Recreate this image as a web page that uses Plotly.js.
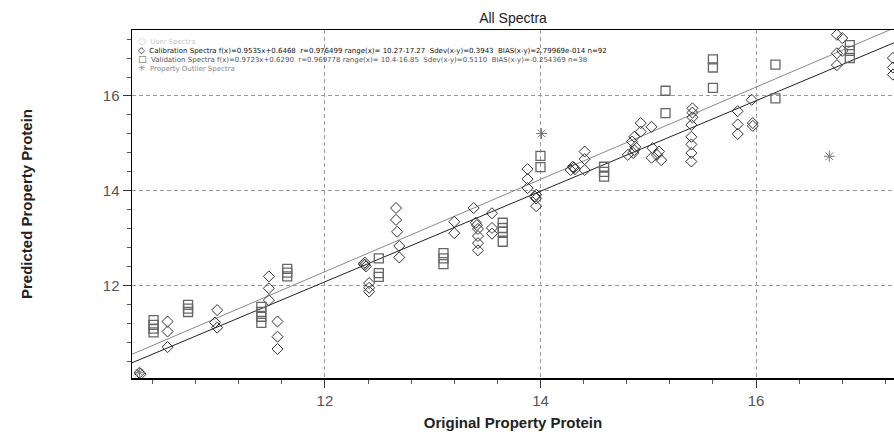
<!DOCTYPE html>
<html>
<head>
<meta charset="utf-8">
<script src="https://cdn.plot.ly/plotly-3.0.1.min.js"></script>
<style>html,body{margin:0;padding:0;background:#fff;}#chart{width:894px;height:438px;}</style>
</head>
<body>
<div id="chart"></div>
<script>
// Calibration spectra (diamonds)
var calX = [10.28,10.29,
  10.54,10.54,10.54,
  11.0,10.98,11.0,
  11.48,11.48,11.48,
  11.56,11.56,11.56,
  12.37,12.37,12.38,12.36,
  12.41,12.41,12.41,
  12.66,12.66,12.67,12.69,12.69,
  13.2,13.2,
  13.38,13.4,13.42,13.42,13.42,13.42,13.41,
  13.55,13.55,13.55,
  13.88,13.88,13.88,
  13.96,13.96,13.96,13.95,
  14.3,14.32,14.28,14.31,
  14.41,14.41,14.41,
  14.93,14.93,14.87,14.85,14.88,14.87,14.81,14.86,
  15.03,
  15.04,15.1,15.03,15.12,15.08,
  15.41,15.41,15.41,15.4,15.4,15.4,15.4,15.4,
  15.83,15.83,15.83,
  15.96,15.97,15.97,
  16.75,16.8,16.75,16.75,16.8,
  17.27,17.27,17.27];
var calY = [10.17,10.14,
  11.25,11.04,10.71,
  11.49,11.23,11.12,
  12.2,11.95,11.7,
  11.25,10.93,10.67,
  12.49,12.44,12.41,12.46,
  12.06,11.96,11.88,
  13.64,13.39,13.14,12.84,12.6,
  13.35,13.11,
  13.64,13.33,13.2,13.05,12.9,12.75,13.28,
  13.53,13.22,13.1,
  14.46,14.25,14.06,
  13.92,13.84,13.68,13.88,
  14.51,14.46,14.44,14.49,
  14.83,14.67,14.44,
  15.43,15.25,15.14,15.04,14.93,14.86,14.76,14.8,
  15.35,
  14.9,14.83,14.7,14.65,14.76,
  15.74,15.65,15.55,15.39,15.14,14.98,14.8,14.62,
  15.68,15.4,15.2,
  15.92,15.43,15.37,
  17.29,17.22,16.9,16.65,16.95,
  16.8,16.6,16.45];

// Validation spectra (squares)
var valX = [10.41,10.41,10.41,10.41,
  10.73,10.73,10.73,
  11.41,11.41,11.41,11.41,
  11.65,11.65,11.65,
  12.5,12.5,12.5,
  13.1,13.1,13.1,
  13.65,13.65,13.65,13.65,
  14.0,14.0,
  14.59,14.59,14.59,
  15.16,15.16,
  15.6,15.6,15.6,
  16.18,16.18,
  16.87,16.87,16.87];
var valY = [11.28,11.18,11.1,11.02,
  11.6,11.52,11.45,
  11.56,11.45,11.35,11.22,
  12.36,12.28,12.2,
  12.58,12.27,12.19,
  12.69,12.58,12.46,
  13.33,13.22,13.14,12.93,
  14.74,14.5,
  14.51,14.4,14.3,
  16.11,15.64,
  16.77,16.6,16.17,
  16.66,15.95,
  17.07,16.95,16.8];

// Property outlier spectra (asterisks)
var outX = [10.28,14.01,16.68];
var outY = [10.17,15.21,14.73];

// Regression lines (end points)
var fitX = [10.2, 17.3];
var calFitY = [10.37, 17.14];
var valFitY = [10.55, 17.45];

// Legend texts
var legendTexts = [
  "User Spectra",
  "Calibration Spectra f(x)=0.9535x+0.6468  r=0.976499 range(x)= 10.27-17.27  Sdev(x-y)=0.3943  BIAS(x-y)=2.79969e-014 n=92",
  "Validation Spectra f(x)=0.9723x+0.6290  r=0.969778 range(x)= 10.4-16.85  Sdev(x-y)=0.5110  BIAS(x-y)=-0.254369 n=38",
  "Property Outlier Spectra"
];
var legendSymbols = ["○","◇","□","✳"];
var legendColors = ["#c8c8c8","#111111","#555555","#888888"];

var L = 132, R = 894, T = 30, B = 378;
function px2x(p){ return (p - L) / (R - L); }
function py2y(p){ return (B - p) / (B - T); }

var traces = [
  {x: fitX, y: calFitY, mode: 'lines', line: {color: '#222', width: 1}, hoverinfo: 'skip'},
  {x: fitX, y: valFitY, mode: 'lines', line: {color: '#8a8a8a', width: 1}, hoverinfo: 'skip'},
  {x: calX, y: calY, mode: 'markers', type: 'scatter',
   marker: {symbol: 'diamond-open', size: 8.5, color: '#333', line: {width: 1, color: '#333'}}},
  {x: valX, y: valY, mode: 'markers', type: 'scatter',
   marker: {symbol: 'square-open', size: 9, color: '#666', line: {width: 1.3, color: '#666'}}},
  {x: outX, y: outY, mode: 'markers', type: 'scatter',
   marker: {symbol: 'asterisk-open', size: 9, color: '#777', line: {width: 1, color: '#777'}}}
];

var lines = [];
for (var i = 0; i < legendTexts.length; i++) {
  lines.push('<span style="color:' + legendColors[i] + '"><span style="font-size:9px">' +
    legendSymbols[i] + '</span>  ' + legendTexts[i] + '</span>');
}
var annotations = [{
  xref: 'paper', yref: 'paper', x: px2x(136), y: py2y(34),
  xanchor: 'left', yanchor: 'top', align: 'left', showarrow: false,
  text: lines.join('<br>'),
  font: {family: 'DejaVu Sans, sans-serif', size: 7, color: '#111'}
}];

var axisCommon = {
  showline: true, linecolor: '#000', linewidth: 1.5,
  ticks: 'outside', ticklen: 8, tickcolor: '#333', tickwidth: 1,
  dtick: 2, tick0: 0,
  minor: {dtick: 0.4, tick0: 0, ticks: 'outside', ticklen: 4, tickcolor: '#555', showgrid: false},
  showgrid: true, gridcolor: '#9a9a9a', gridwidth: 1, griddash: '4px,3px',
  zeroline: false,
  tickfont: {family: 'Liberation Sans, Arial, sans-serif', size: 15, color: '#555'}
};

var layout = {
  width: 894, height: 438,
  margin: {l: L, r: 0, t: T, b: 438 - B, pad: 0},
  paper_bgcolor: '#fff', plot_bgcolor: '#fff',
  showlegend: false,
  title: {text: 'All Spectra', x: 0.5, xref: 'paper', xanchor: 'center',
    y: 1 - 18/438, yref: 'container', yanchor: 'middle',
    font: {family: 'Liberation Sans, Arial, sans-serif', size: 14, color: '#222'}},
  xaxis: Object.assign({}, axisCommon, {
    range: [10.21, 17.28], mirror: true,
    title: {text: '<b>Original Property Protein</b>', standoff: 10,
      font: {family: 'Liberation Sans, Arial, sans-serif', size: 15, color: '#222'}}
  }),
  yaxis: Object.assign({}, axisCommon, {
    range: [10.06, 17.39],
    title: {text: '<b>Predicted Property Protein</b>', standoff: 66,
      font: {family: 'Liberation Sans, Arial, sans-serif', size: 15, color: '#222'}}
  }),
  annotations: annotations
};

Plotly.newPlot('chart', traces, layout, {staticPlot: true, displayModeBar: false});
</script>
</body>
</html>
